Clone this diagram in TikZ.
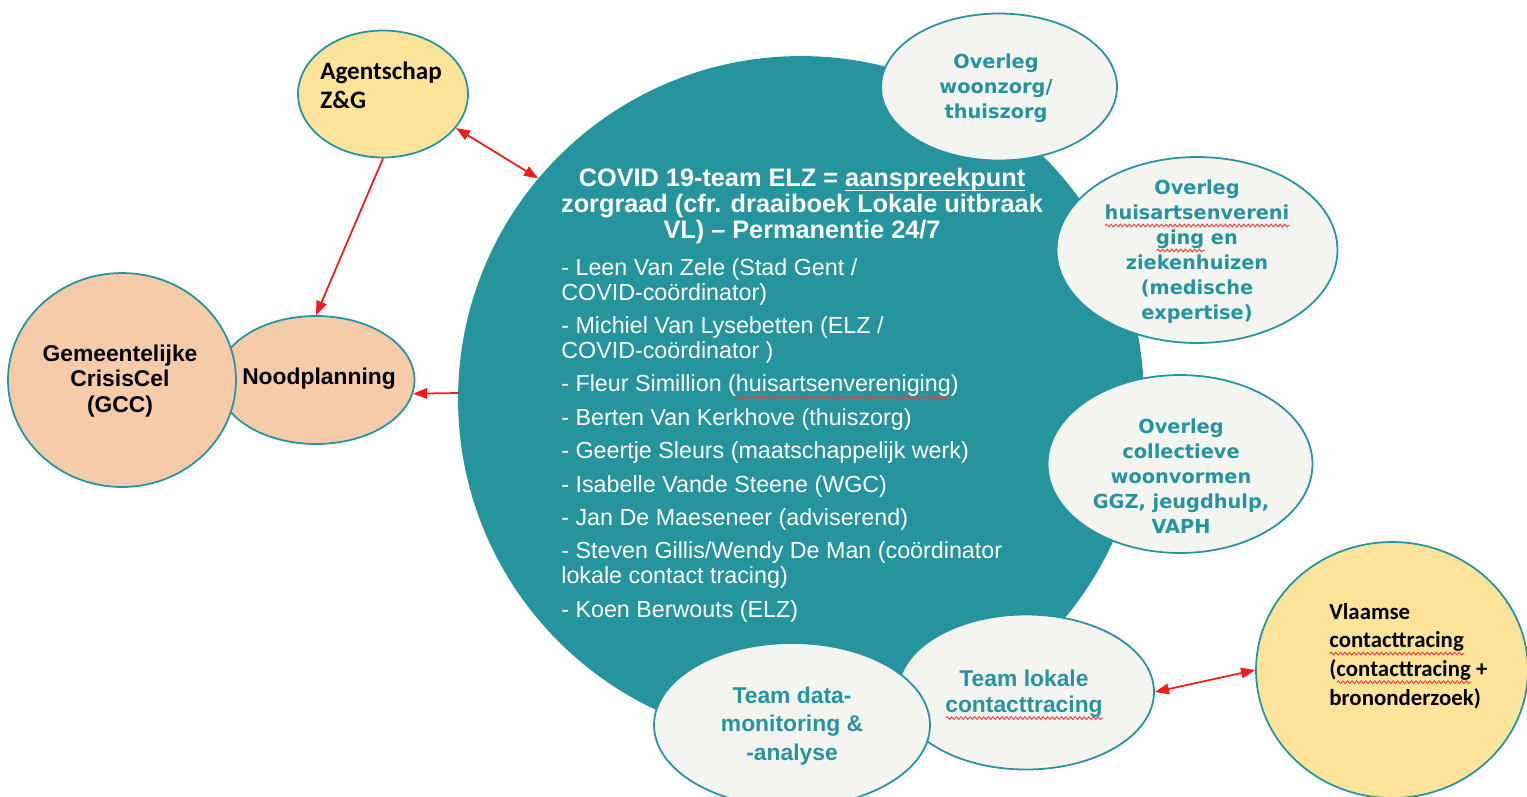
\documentclass[tikz,border=0pt]{standalone}
\usepackage{fontspec}
\usetikzlibrary{shapes.geometric,arrows.meta,decorations.pathmorphing}

\setmainfont{Liberation Sans}
\newfontfamily\calibrifont{Carlito}
\newfontfamily\verdanafont{DejaVu Sans}

\definecolor{elzteal}{RGB}{38,148,157}
\definecolor{bubblegrey}{RGB}{244,245,241}
\definecolor{agentyellow}{RGB}{254,228,155}
\definecolor{crisispeach}{RGB}{246,203,169}
\definecolor{linkred}{RGB}{240,28,28}
\definecolor{spellred}{RGB}{235,60,60}

% title font
\newcommand\titlefont{\bfseries\fontsize{14.4}{14.8}\selectfont\lineskiplimit=-20pt\relax}

% underline just under the baseline, without extra depth
\newlength\spellwd
\newcommand\keyword[1]{\settowidth\spellwd{#1}\rlap{\rule[-2.7pt]{\spellwd}{0.8pt}}#1}

% red wavy underline, as the spell checker marks words
\newcommand\spelling[1]{\settowidth\spellwd{#1}\rlap{\tikz[baseline=0pt,x=1pt,y=1pt]
  \draw[spellred, line width=0.5pt, decorate, decoration={snake, segment length=2.6pt, amplitude=0.8pt}]
    (0pt,-3.2pt) -- (\spellwd,-3.2pt);}#1}

\begin{document}
\begin{tikzpicture}[x=0.02cm, y=-0.02cm,
    bubble/.style={ellipse, draw=elzteal, line width=1pt, inner sep=0pt},
    overleg/.style={bubble, fill=bubblegrey},
    tealtext/.style={text=elzteal, align=center, inner sep=0pt, font=\verdanafont\bfseries\fontsize{11}{14.2}\selectfont},
    teamtext/.style={text=elzteal, align=center, inner sep=0pt, font=\bfseries\fontsize{13}{14.7}\selectfont},
    link/.style={draw=linkred, line width=1pt, -{Triangle[length=8pt,width=6pt]}},
    twoway/.style={link, {Triangle[length=8pt,width=6pt]}-{Triangle[length=8pt,width=6pt]}}]
  \useasboundingbox (0,0) rectangle (1527,796);

  % the COVID team
  \node[circle, fill=elzteal, minimum size=13.72cm, inner sep=0pt] (team) at (801,399) {};

  % overleg bubbles round the team
  \node[overleg, minimum width=4.72cm, minimum height=2.94cm] (woonzorg) at (999,87) {};
  \node[overleg, minimum width=5.62cm, minimum height=3.72cm] (huisarts) at (1197,250) {};
  \node[overleg, minimum width=5.3cm, minimum height=3.56cm] (collectief) at (1180,464) {};
  \node[overleg, minimum width=5.12cm, minimum height=3.1cm] (lokaal) at (1026,692) {};
  \node[overleg, minimum width=5.52cm, minimum height=3.28cm] (data) at (792,725) {};

  % partners outside
  \node[bubble, fill=agentyellow, minimum width=5.44cm, minimum height=5.12cm] (vlaams) at (1392,670) {};
  \node[bubble, fill=agentyellow, minimum width=3.4cm, minimum height=2.54cm] (agent) at (383,94) {};
  \node[bubble, fill=crisispeach, minimum width=3.94cm, minimum height=2.56cm] (nood) at (316,380) {};
  \node[bubble, fill=crisispeach, minimum width=4.56cm, minimum height=4.28cm] (gcc) at (122,380) {};

  % texts
  \node[anchor=north, text=white, align=center, inner sep=0pt, font=\titlefont] (titel) at (802,168)
    {COVID 19-team ELZ = \keyword{aanspreekpunt}\\zorgraad (cfr. draaiboek Lokale uitbraak\\VL) – Permanentie 24/7};
  \node[anchor=north west, text=white, align=left, inner sep=0pt, font=\fontsize{13.25}{14.2}\selectfont] (leden) at (561,258)
    {- Leen Van Zele (Stad Gent /\\COVID-coördinator)\\[4.8pt]
     - Michiel Van Lysebetten (ELZ /\\COVID-coördinator )\\[4.8pt]
     - Fleur Simillion (\spelling{huisartsenvereniging})\\[4.8pt]
     - Berten Van Kerkhove (thuiszorg)\\[4.8pt]
     - Geertje Sleurs (maatschappelijk werk)\\[4.8pt]
     - Isabelle Vande Steene (WGC)\\[4.8pt]
     - Jan De Maeseneer (adviserend)\\[4.8pt]
     - Steven Gillis/Wendy De Man (coördinator\\lokale contact tracing)\\[4.8pt]
     - Koen Berwouts (ELZ)};

  \node[tealtext] (woonzorg-txt) at (996,88) {Overleg\\woonzorg/\\thuiszorg};
  \node[tealtext] (huisarts-txt) at (1197,252) {Overleg\\\spelling{huisartsenvereni}\\\spelling{ging} en\\ziekenhuizen\\(medische\\expertise)};
  \node[tealtext] (collectief-txt) at (1181,476) {Overleg\\collectieve\\woonvormen\\GGZ, jeugdhulp,\\VAPH};
  \node[teamtext] (lokaal-txt) at (1024,695) {Team lokale\\\spelling{contacttracing}};
  \node[teamtext, font=\bfseries\fontsize{13}{16.4}\selectfont] (data-txt) at (792,726) {Team data-\\monitoring \&\\-analyse};

  \node[anchor=north west, align=left, inner sep=0pt, font=\calibrifont\bfseries\fontsize{14.3}{16.5}\selectfont] (agent-txt) at (320,62) {Agentschap\\Z\&G};
  \node[anchor=west, align=left, inner sep=0pt, font=\calibrifont\bfseries\fontsize{13}{16.3}\selectfont] (vlaams-txt) at (1329,656)
    {Vlaamse\\\spelling{contacttracing}\\(\spelling{contacttracing} +\\brononderzoek)};
  \node[align=center, inner sep=0pt, font=\bfseries\fontsize{13}{14.7}\selectfont] (nood-txt) at (319,379) {Noodplanning};
  \node[align=center, inner sep=0pt, font=\bfseries\fontsize{13}{14.7}\selectfont] (gcc-txt) at (120,381) {Gemeentelijke\\CrisisCel\\(GCC)};

  % links
  \draw[twoway] (agent.-25) -- (team.140);
  \draw[link] (agent.south) -- (nood.north);
  \draw[link] (team.179) -- (nood.-8);
  \draw[twoway] (lokaal.east) -- (vlaams.west);
\end{tikzpicture}
\end{document}
